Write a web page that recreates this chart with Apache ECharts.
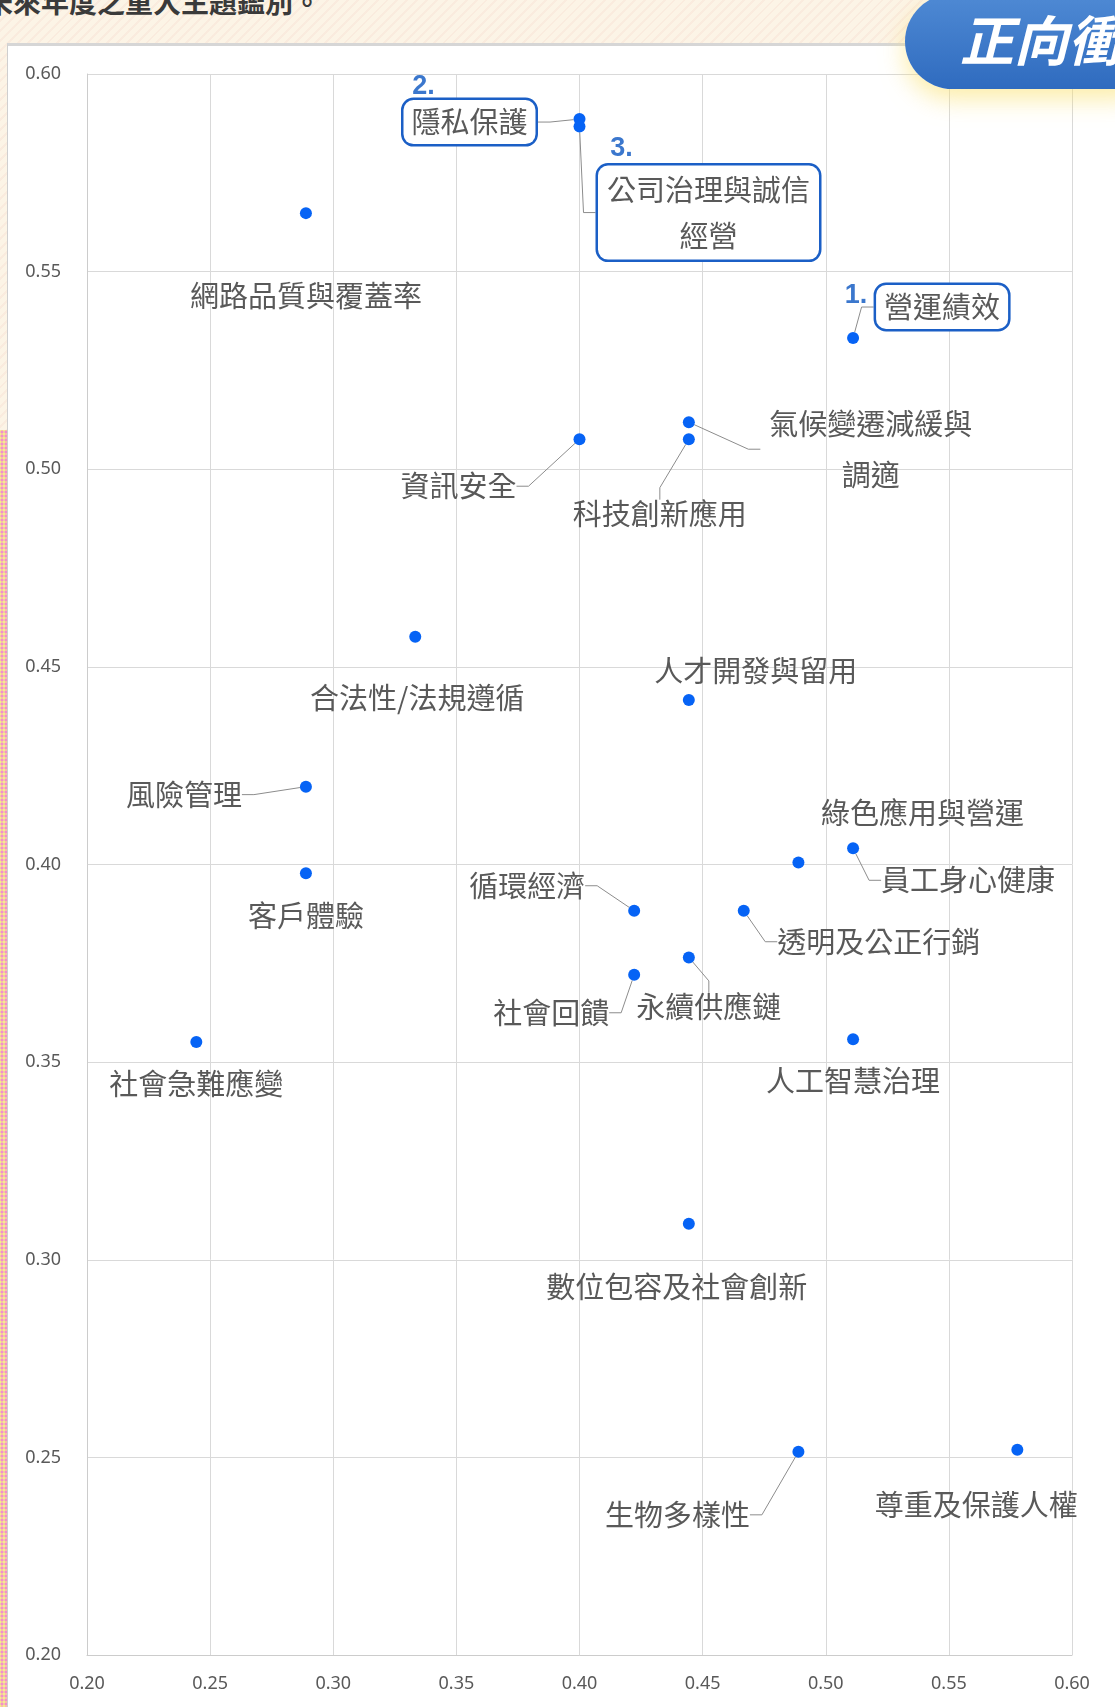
<!DOCTYPE html>
<html><head><meta charset="utf-8">
<script src="https://cdn.jsdelivr.net/npm/echarts@6/dist/echarts.min.js"></script>
<style>
html,body{margin:0;padding:0;width:1115px;height:1707px;overflow:hidden;}
body{background:#fcf4e6;position:relative;font-family:"Noto Sans CJK TC",sans-serif;}
#bgpat{position:absolute;left:0;top:0;right:0;bottom:0;background:repeating-linear-gradient(135deg,rgba(240,190,180,0.16) 0 2px,transparent 2px 7px);}
#leftstrip{position:absolute;left:0;top:430px;width:8px;bottom:0;background:radial-gradient(circle,#f28fcb 1.3px,#f6ea8c 1.8px) 0 0/4px 4px;}
#title{position:absolute;left:-15px;top:-16px;font-size:28px;line-height:34px;color:#3a3a3a;font-weight:700;white-space:nowrap;}
#frame{position:absolute;left:7px;top:43px;right:-5px;bottom:-5px;background:#fff;border-left:1px solid #cfcfcf;border-top:3px solid #d6d6d6;}
#chart{position:absolute;left:0;top:0;width:1115px;height:1707px;}
#badge{position:absolute;left:905px;top:-6px;width:260px;height:95px;border-radius:48px;background:linear-gradient(#4f8ad4,#2f6bbf);box-shadow:0 10px 24px rgba(250,225,110,0.6);z-index:5;}
#badge span{position:absolute;left:55px;top:13px;font-size:54px;line-height:62px;font-style:italic;font-weight:700;color:#fff;white-space:nowrap;}
</style>
</head>
<body>
<div id="bgpat"></div>
<div id="leftstrip"></div>
<div id="title">未來年度之重大主題鑑別。</div>
<div id="frame"></div>
<div id="chart"></div>
<div id="badge"><span>正向衝</span></div>
<script>
// ---- data ----
const names = ['網路品質與覆蓋率','隱私保護','公司治理與誠信經營','營運績效','氣候變遷減緩與調適','科技創新應用','資訊安全','合法性/法規遵循','人才開發與留用','風險管理','客戶體驗','綠色應用與營運','員工身心健康','循環經濟','透明及公正行銷','永續供應鏈','社會回饋','社會急難應變','人工智慧治理','數位包容及社會創新','生物多樣性','尊重及保護人權'];
const xValues = [0.2889,0.4000,0.4000,0.5111,0.4444,0.4444,0.4000,0.3333,0.4444,0.2889,0.2889,0.4889,0.5111,0.4222,0.4667,0.4444,0.4222,0.2444,0.5111,0.4444,0.4889,0.5778];
const yValues = [0.5648,0.5886,0.5867,0.5332,0.5119,0.5076,0.5076,0.4576,0.4416,0.4197,0.3978,0.4005,0.4041,0.3883,0.3883,0.3765,0.3721,0.3551,0.3558,0.3091,0.2514,0.2519];
const rankedNames = ['營運績效','隱私保護','公司治理與誠信經營'];
const rankLabels = ['1.','2.','3.'];
const axisMin = 0.20, axisMax = 0.60, axisStep = 0.05;

// ---- label placement (layout only) ----
const place = {
 '網路品質與覆蓋率':{offset:[0,83]},
 '隱私保護':{offset:[-110,3],line:true,box:true},
 '公司治理與誠信經營':{offset:[129,86],line:true,box:true,wrap:true},
 '營運績效':{offset:[89,-31],line:true,box:true},
 '氣候變遷減緩與調適':{offset:[182,27],line:true,wrap:true},
 '科技創新應用':{offset:[-29,75],line:true},
 '資訊安全':{offset:[-121,47],line:true},
 '合法性/法規遵循':{offset:[2,61]},
 '人才開發與留用':{offset:[67,-29]},
 '風險管理':{offset:[-122,8],line:true},
 '客戶體驗':{offset:[0,43]},
 '綠色應用與營運':{offset:[124,-50]},
 '員工身心健康':{offset:[115,32],line:true},
 '循環經濟':{offset:[-107,-25],line:true},
 '透明及公正行銷':{offset:[135,31],line:true},
 '永續供應鏈':{offset:[20,50],line:true},
 '社會回饋':{offset:[-83,38],line:true},
 '社會急難應變':{offset:[0,42]},
 '人工智慧治理':{offset:[0,42]},
 '數位包容及社會創新':{offset:[-12,63]},
 '生物多樣性':{offset:[-121,63],line:true},
 '尊重及保護人權':{offset:[-41,55]}
};
const rankOffsets = {'1.':[3,-42],'2.':[-156,-33],'3.':[42,22]};

const BLUE = '#0663f5';
const TEXT = '#595959';
const BOX = '#1b5fc6';

const pointData = names.map((n,i)=>{
  const p = place[n] || {offset:[0,40]};
  const label = {offset:p.offset};
  if (p.wrap){ label.width = 7*29+4; label.overflow='break'; label.lineHeight = p.box?46:51; }
  if (p.box){
    Object.assign(label,{borderColor:BOX,borderWidth:2.5,borderRadius:10,backgroundColor:'#fff',padding:p.wrap?[1,7]:[5,8]});
    if(!p.wrap) label.lineHeight = 34;
  } else if (p.line){
    label.padding = [3,7];
  }
  return {name:n,value:[xValues[i],yValues[i]],label:label,labelLine:{show:!!p.line}};
});

const rankData = rankedNames.map((n,k)=>{
  const i = names.indexOf(n);
  return {name:rankLabels[k],value:[xValues[i],yValues[i]],label:{offset:rankOffsets[rankLabels[k]]}};
});

const axisCommon = {
  type:'value',min:axisMin,max:axisMax,interval:axisStep,
  axisLine:{show:true,lineStyle:{color:'#cccccc',width:1}},
  axisTick:{show:false},
  splitLine:{show:true,lineStyle:{color:'#d9d9d9',width:1}},
};

const chart = echarts.init(document.getElementById('chart'),null,{renderer:'canvas'});
chart.setOption({
  animation:false,
  backgroundColor:'transparent',
  grid:{left:87,right:43,top:74,bottom:52},
  xAxis:Object.assign({},axisCommon,{axisLabel:{formatter:v=>v.toFixed(2),color:TEXT,fontSize:18,margin:20,fontFamily:'Noto Sans'}}),
  yAxis:Object.assign({},axisCommon,{axisLabel:{formatter:v=>v.toFixed(2),color:TEXT,fontSize:18,margin:26,fontFamily:'Noto Sans'}}),
  series:[
    {
      type:'scatter',
      data:pointData,
      symbolSize:12,
      itemStyle:{color:BLUE,opacity:1},
      z:3,
      label:{show:true,position:'inside',formatter:'{b}',color:TEXT,fontSize:29,fontFamily:'Noto Sans CJK TC',align:'center',verticalAlign:'middle'},
      labelLine:{show:false,length2:12,lineStyle:{color:'#8c8c8c',width:1}}
    },
    {
      type:'scatter',
      data:rankData,
      symbolSize:0,
      silent:true,
      z:4,
      label:{show:true,position:'inside',formatter:'{b}',color:'#0a55c0',fontSize:27,fontWeight:'bold',fontFamily:'Liberation Sans'}
    }
  ]
});
</script>
</body></html>
